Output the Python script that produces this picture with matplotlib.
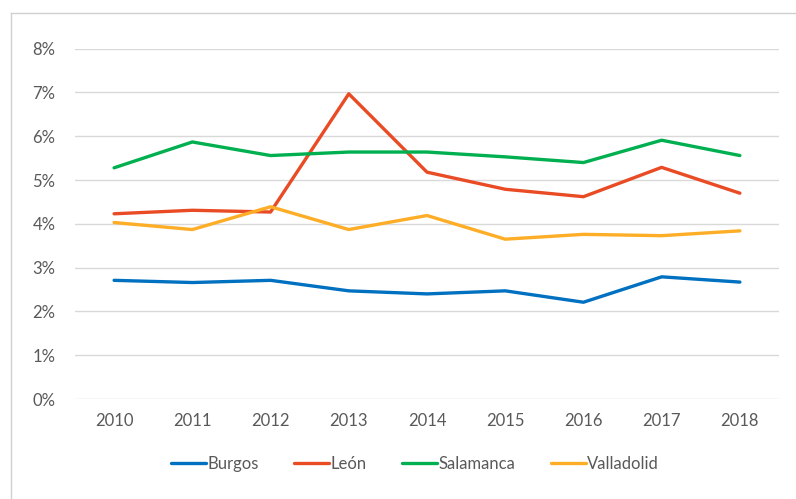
import matplotlib.pyplot as plt
from matplotlib.lines import Line2D

years = ['2010', '2011', '2012', '2013', '2014', '2015', '2016', '2017', '2018']
burgos = [2.71, 2.66, 2.71, 2.47, 2.40, 2.47, 2.21, 2.79, 2.67]
leon = [4.23, 4.31, 4.27, 6.97, 5.18, 4.79, 4.62, 5.29, 4.70]
salamanca = [5.28, 5.87, 5.56, 5.64, 5.64, 5.53, 5.40, 5.91, 5.56]
valladolid = [4.03, 3.87, 4.39, 3.87, 4.19, 3.65, 3.76, 3.73, 3.84]

series = [
    ('Burgos', burgos, '#0070C0'),
    ('León', leon, '#E94B24'),
    ('Salamanca', salamanca, '#00B050'),
    ('Valladolid', valladolid, '#FDAD26'),
]

plt.rcParams['font.family'] = ['Lato', 'DejaVu Sans']
text_color = '#595959'

fig = plt.figure(figsize=(7.96, 4.99), dpi=100)
ax = fig.add_axes([75 / 796, 1 - 399 / 499, 704 / 796, 350.3 / 499])

x = range(len(years))
for name, vals, color in series:
    ax.plot(x, vals, color=color, linewidth=2.4, label=name, solid_capstyle='round')

ax.set_xlim(-0.5, len(years) - 0.5)
ax.set_ylim(0, 8)
ax.set_yticks(range(0, 9))
ax.set_yticklabels([f'{i}%' for i in range(0, 9)])
ax.set_xticks(list(x))
ax.set_xticklabels(years)
ax.grid(axis='y', color='#D9D9D9', linewidth=1)
ax.set_axisbelow(True)
for s in ax.spines.values():
    s.set_visible(False)
ax.tick_params(length=0, labelsize=12, colors=text_color)
ax.tick_params(axis='y', pad=14)
ax.tick_params(axis='x', pad=10)

leg = ax.legend(loc='center', bbox_to_anchor=(0.483, -0.185), ncol=4, frameon=False,
                fontsize=12, handlelength=2.1, handletextpad=0.1, columnspacing=2.1)
for t in leg.get_texts():
    t.set_color(text_color)

# outer chart border (partially visible)
top = 1 - 12.7 / 499
left = 10.5 / 796
fig.add_artist(Line2D([left, left], [0, top], transform=fig.transFigure, color='#D0D0D0', linewidth=1))
fig.add_artist(Line2D([left, 1], [top, top], transform=fig.transFigure, color='#D0D0D0', linewidth=1))

fig.savefig('out.png', dpi=100)
